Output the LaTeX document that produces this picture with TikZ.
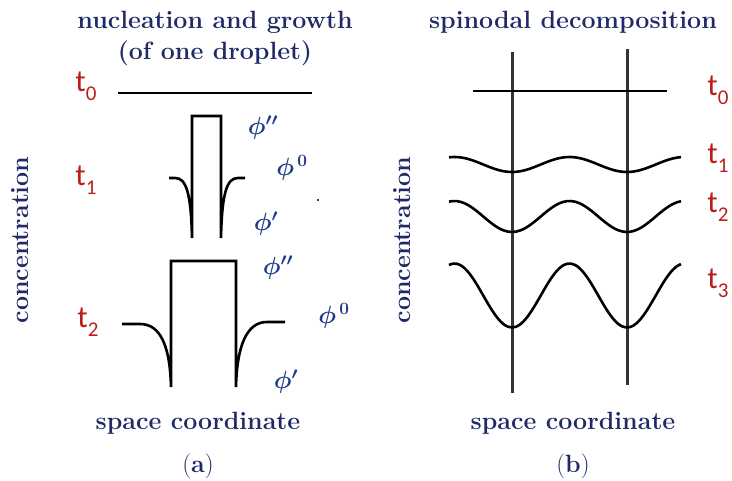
\documentclass[tikz,border=0pt]{standalone}
\usepackage{fontspec}
\newfontfamily\timefont{Carlito}
\usepackage{bm}
\usepackage{tikz}
\usetikzlibrary{positioning}
\definecolor{TitleNavy}{HTML}{1F2A66}
\definecolor{TimeRed}{HTML}{B81E1A}
\definecolor{PhiBlue}{HTML}{1E3A8C}
\newcommand{\tlab}[1]{t\raisebox{-0.28em}{\fontsize{21}{21}\selectfont #1}}

\begin{document}
\begin{tikzpicture}[x=1pt,y=-1pt,
    heading/.style={text=TitleNavy,font=\bfseries\fontsize{25}{27}\selectfont,inner sep=0pt},
    timelab/.style={text=TimeRed,font=\timefont\fontsize{31}{31}\selectfont,inner sep=0pt},
    philab/.style={text=PhiBlue,font=\fontsize{27}{27}\selectfont,inner sep=0pt},
    profile/.style={line width=2.6pt,line join=miter},
    guide/.style={line width=3pt,draw=black!80}]
  \useasboundingbox (0,0) rectangle (732,481);

  % (a) nucleation and growth
  \node[heading] (titleA) at (215,22) {nucleation and growth};
  \node[heading] (subA) at (215,53) {(of one droplet)};
  \node[heading,rotate=90] (concA) at (20,240) {concentration};
  \node[heading] (spaceA) at (198,423) {space coordinate};
  \node[heading,font=\fontsize{25}{27}\selectfont] (capA) at (198,466) {(\textbf{a})};

  \node[timelab] (t0A) at (86,86) {\tlab{0}};
  \node[timelab] (t1A) at (86,180) {\tlab{1}};
  \node[timelab] (t2A) at (88,322) {\tlab{2}};

  \draw[profile] (118,93) -- (312,93);
  \draw[profile] (169,178) -- (175,178) .. controls (186,178) and (191,192) .. (192,238)
    -- (192,116) -- (221,116) -- (221,238) .. controls (222,192) and (227,178) .. (238,178) -- (245,178);
  \draw[profile] (122,324) -- (140,324) .. controls (160,324) and (170,345) .. (171,387)
    -- (171,261) -- (236,261) -- (236,387) .. controls (237,345) and (247,322) .. (267,322) -- (285,322);

  \node[philab] (p2t1) at (263,128) {$\bm{\phi''}$};
  \node[philab] (p0t1) at (292,168) {$\bm{\phi^{\,0}}$};
  \node[philab] (p1t1) at (266,224) {$\bm{\phi'}$};
  \fill (318,200) circle (1.2);
  \node[philab] (p2t2) at (278,268) {$\bm{\phi''}$};
  \node[philab] (p0t2) at (334,316) {$\bm{\phi^{\,0}}$};
  \node[philab] (p1t2) at (286,382) {$\bm{\phi'}$};

  % (b) spinodal decomposition
  \node[heading] (titleB) at (573,22) {spinodal decomposition};
  \node[heading,rotate=90] (concB) at (402,240) {concentration};
  \node[heading] (spaceB) at (573,423) {space coordinate};
  \node[heading,font=\fontsize{25}{27}\selectfont] (capB) at (573,466) {(\textbf{b})};

  \draw[guide] (512,52) -- (512,393);
  \draw[guide] (627,49) -- (627,385);
  \draw[profile] (473,91) -- (667,91);
  \foreach \m/\a in {164.5/7.5, 216.5/15.5, 295.5/32}
    \draw[profile,smooth,domain=449:681,samples=60] plot (\x,{\m+\a*cos(3.1304*(\x-512))});

  \node[timelab] (t0B) at (718,90) {\tlab{0}};
  \node[timelab] (t1B) at (718,158) {\tlab{1}};
  \node[timelab] (t2B) at (718,207) {\tlab{2}};
  \node[timelab] (t3B) at (718,283) {\tlab{3}};
\end{tikzpicture}
\end{document}
